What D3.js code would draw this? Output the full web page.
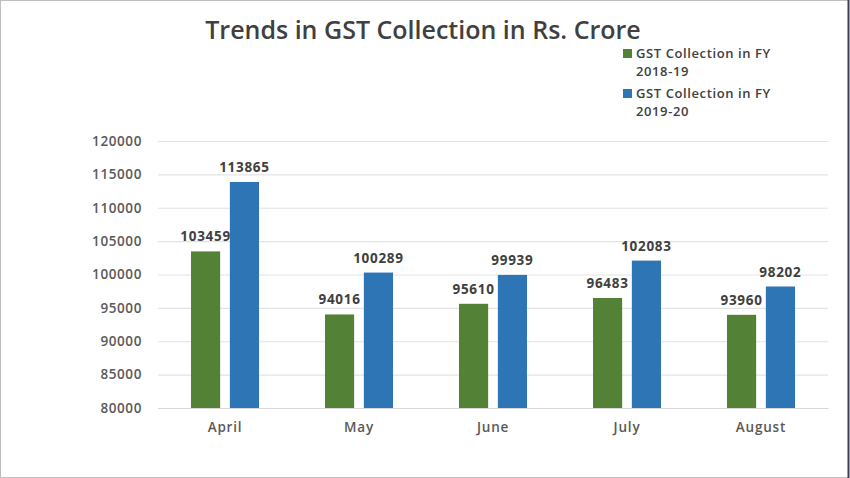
<!DOCTYPE html>
<html><head><meta charset="utf-8">
<script src="https://cdn.jsdelivr.net/npm/d3@7"></script>
<style>body{margin:0;background:#fff;}svg{display:block;}</style>
</head><body>
<svg id="c" width="850" height="478"></svg>
<script>
const categories = ["April","May","June","July","August"];
const seriesNames = ["GST Collection in FY 2018-19","GST Collection in FY 2019-20"];
const fy1819 = [103459,94016,95610,96483,93960];
const fy1920 = [113865,100289,99939,102083,98202];
const yTicks = [80000,85000,90000,95000,100000,105000,110000,115000,120000];
const colors = ["#538135","#2e75b6"];

const svg = d3.select("#c");
const font = "'Open Sans', sans-serif";
const W=850,H=478;
const m = {left:158,right:828,top:141,bottom:408};

svg.append("rect").attr("x",0.5).attr("y",0.5).attr("width",W-2).attr("height",H-1)
  .attr("fill","#fff").attr("stroke","#bfbfbf");
svg.append("line").attr("x1",848.5).attr("x2",848.5).attr("y1",0).attr("y2",H).attr("stroke","#3a3f55").attr("stroke-width",2);

const x = d3.scaleBand().domain(categories).range([m.left,m.right]).paddingInner(0).paddingOuter(0);
const x1 = d3.scaleBand().domain([0,1]).range([x.bandwidth()/2-34, x.bandwidth()/2+34]).paddingInner(0.25).paddingOuter(0);
const y = d3.scaleLinear().domain([80000,120000]).range([m.bottom,m.top]);

// gridlines
const ga = svg.append("g").attr("transform",`translate(${m.left},0)`)
  .call(d3.axisLeft(y).tickValues(yTicks).tickSize(-(m.right-m.left)).tickFormat(d=>d).tickPadding(16));
ga.select(".domain").remove();
ga.selectAll(".tick line").attr("stroke","#e3e3e3").attr("stroke-width",1.2);
ga.selectAll(".tick text").attr("font-family",font).attr("font-size",13.5).attr("font-weight",600)
  .attr("letter-spacing",0.6).attr("fill","#595959");

// x axis
const xa = svg.append("g").attr("transform",`translate(0,${m.bottom})`)
  .call(d3.axisBottom(x).tickSize(0).tickPadding(14));
xa.select(".domain").attr("stroke","#d9d9d9");
xa.selectAll(".tick text").attr("font-family",font).attr("font-size",13.5).attr("font-weight",600)
  .attr("letter-spacing",0.8).attr("fill","#595959");

const rows = categories.map((c,i)=>({c, v:[fy1819[i],fy1920[i]]}));
const g = svg.append("g");
rows.forEach(r=>{
  r.v.forEach((v,k)=>{
    const bx = x(r.c)+x1(k);
    g.append("rect").attr("x",bx).attr("y",y(v)).attr("width",x1.bandwidth())
      .attr("height",y(80000)-y(v)).attr("fill",colors[k]);
    g.append("text").attr("x",bx+x1.bandwidth()/2).attr("y",y(v)-10).attr("text-anchor","middle")
      .attr("font-family",font).attr("font-size",13.5).attr("font-weight",700).attr("letter-spacing",0.7)
      .attr("fill","#404040").text(v);
  });
});

// title
svg.append("text").attr("x",423).attr("y",39).attr("text-anchor","middle")
  .attr("font-family",font).attr("font-size",25).attr("font-weight",600).attr("fill","#404040")
  .text("Trends in GST Collection in Rs. Crore");

// legend
const leg = [["GST Collection in FY","2018-19"],["GST Collection in FY","2019-20"]];
leg.forEach((l,i)=>{
  const yy = 58 + i*40;
  svg.append("rect").attr("x",623).attr("y",yy-9).attr("width",9).attr("height",9).attr("fill",colors[i]);
  const t = svg.append("text").attr("font-family",font).attr("font-size",13).attr("font-weight",600)
    .attr("letter-spacing",0.6).attr("fill","#404040");
  t.append("tspan").attr("x",636).attr("y",yy).text(l[0]);
  t.append("tspan").attr("x",636).attr("y",yy+18).text(l[1]);
});
</script>
</body></html>
